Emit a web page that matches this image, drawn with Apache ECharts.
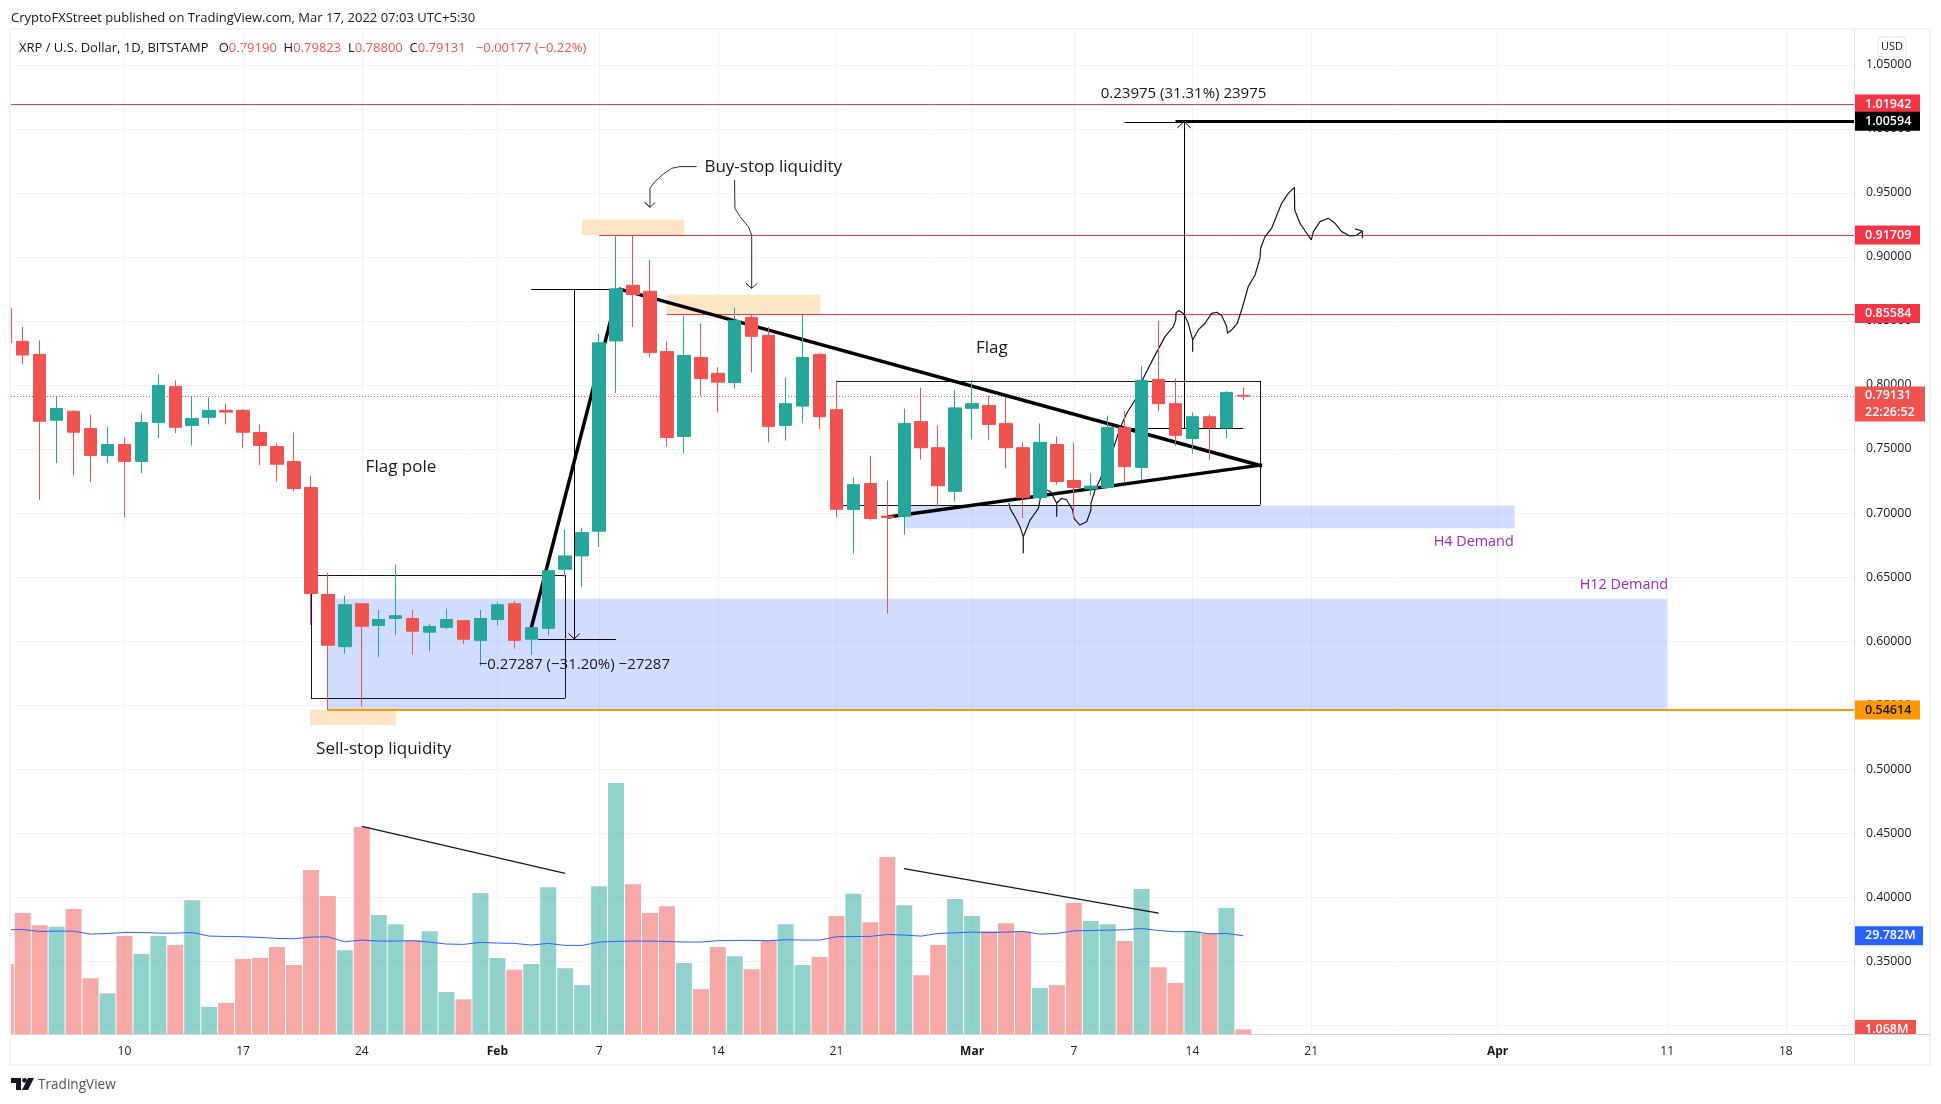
<!DOCTYPE html>
<html><head><meta charset="utf-8"><style>html,body{margin:0;padding:0;background:#fff}#c{width:1941px;height:1104px}</style>
<script src="https://cdn.jsdelivr.net/npm/echarts@6/dist/echarts.min.js"></script></head>
<body><div id="c"></div>
<script>
const FONT = '"Open Sans", sans-serif';
// ---------- data: x values are day-of-year 2022 (Jan 1 = 1)
const firstDay = 3;
const open  = [.8597,.8341,.8239,.7725,.7794,.7659,.7450,.7535,.7403,.7706,.7989,.7684,.7747,.7802,.7802,.7629,.7519,.7403,.7199,.6363,.5956,.6291,.6121,.6176,.6176,.6069,.6107,.6159,.6005,.6168,.6291,.6014,.6099,.6560,.6665,.6858,.8344,.8779,.8732,.8261,.7598,.8215,.8091,.8019,.8528,.8388,.7684,.7835,.8239,.7807,.7026,.7230,.6976,.6974,.7714,.7510,.7169,.7818,.7840,.7700,.7510,.7120,.7535,.7254,.7188,.7199,.7667,.7356,.8044,.7854,.7582,.7752,.7664,.7919];
const close = [.8330,.8234,.7717,.7816,.7631,.7450,.7535,.7403,.7706,.7997,.7670,.7739,.7802,.7788,.7631,.7527,.7381,.7191,.6371,.5967,.6283,.6115,.6168,.6198,.6077,.6113,.6168,.6014,.6176,.6283,.6005,.6104,.6549,.6665,.6847,.8330,.8751,.8707,.8253,.7590,.8231,.8050,.8022,.8503,.8380,.7675,.7854,.8215,.7752,.7029,.7221,.6957,.6965,.7700,.7510,.7213,.7821,.7854,.7692,.7510,.7120,.7552,.7246,.7199,.7210,.7667,.7362,.8036,.7854,.7607,.7752,.7667,.7942,.7913];
const low   = [.8330,.8160,.7100,.7389,.7293,.7241,.7389,.6966,.7312,.7585,.7623,.7527,.7692,.7692,.7510,.7373,.7246,.7169,.6126,.5461,.5901,.5489,.5874,.6049,.5893,.5920,.6091,.5975,.5805,.6121,.5940,.5893,.6044,.6503,.6423,.6735,.7937,.8454,.8215,.7519,.7464,.7915,.7785,.7972,.8096,.7552,.7565,.7706,.7656,.6966,.6683,.6941,.6214,.6831,.7417,.7051,.7092,.7574,.7568,.7348,.6960,.7092,.7221,.6960,.7136,.7191,.7238,.7257,.7794,.7524,.7464,.7417,.7582,.7880];
const high  = [.8597,.8454,.8347,.7912,.7802,.7769,.7675,.7590,.7777,.8083,.8036,.7912,.7901,.7854,.7813,.7692,.7544,.7629,.7293,.6533,.6354,.6291,.6242,.6596,.6242,.6137,.6253,.6159,.6242,.6305,.6313,.6104,.6549,.6872,.6886,.8399,.9161,.9169,.8979,.8341,.8542,.8481,.8138,.8605,.8550,.8454,.8058,.8550,.8248,.8028,.7276,.7447,.7254,.7816,.7981,.7684,.7959,.8041,.7917,.7904,.7552,.7700,.7598,.7552,.7309,.7761,.7800,.8146,.8503,.8050,.7785,.7769,.7950,.7982];
const volume = [21.3,36.7,33.0,32.5,37.9,17.0,12.4,29.7,24.3,29.7,27.0,40.5,8.3,9.5,22.8,23.1,26.4,21.0,49.7,41.8,25.4,62.7,36.1,33.3,28.5,31.2,12.8,10.6,42.7,23.1,19.5,21.3,44.5,20.0,14.9,44.8,76.0,45.4,36.7,38.7,21.6,13.7,26.4,23.6,19.7,28.4,33.3,21.0,23.4,35.8,42.5,33.9,53.6,39.0,17.9,27.0,40.9,35.8,31.2,33.6,31.2,14.0,14.9,39.7,34.3,33.3,28.2,43.9,20.3,15.5,31.2,30.5,38.2,1.5];
const volumeMA = [31.6,31.7,31.1,31.2,31.2,30.3,30.5,30.8,30.8,30.6,30.6,30.8,29.7,29.6,29.5,29.3,29.0,28.9,29.4,29.5,28.0,28.5,28.2,28.2,28.3,27.9,27.3,27.2,27.8,27.6,27.5,27.0,27.5,26.9,26.9,27.9,28.1,28.2,28.2,28.1,27.9,27.9,28.3,28.4,28.4,28.3,28.6,28.5,28.5,29.5,29.6,29.6,30.2,30.0,29.7,30.5,30.7,30.9,30.8,30.9,31.1,30.3,30.5,31.3,31.4,31.5,31.6,32.0,31.4,31.0,31.1,30.4,30.5,29.8];
const tickDays   = [10,17,24,32,38,45,52,60,66,73,80,91,101,108];
const tickLabels = ['10','17','24','Feb','7','14','21','Mar','7','14','21','Apr','11','18'];
const priceTicks = [.30,.35,.40,.45,.50,.55,.60,.65,.70,.75,.80,.85,.90,.95,1.00,1.05];

// ---------- drawings, as [day, price] pairs
const buyStopZones = [[37,.9293,43.03,.9172],[41.97,.8707,51.06,.8545],[20.95,.5461,26.02,.5343]];
const demandZones  = [[22,.6330,101,.5461],[56,.7059,92,.6880]];
const boxPole = [[21,.6516],[36,.6516],[36,.5555],[21,.5555],[21,.6516]];
const boxFlag = [[52,.8033],[77,.8033],[77,.7065],[52,.7065],[52,.8033]];
const trendPole  = [[34,.6104],[39.16,.8751]];
const trendUpper = [[39.16,.8751],[77.1,.7367]];
const trendLower = [[55.04,.6968],[77.1,.7376]];
const volumeTrendA = [[24,.4552],[36,.4184]];
const volumeTrendB = [[55.98,.4222],[71,.3874]];
const measureDownTop = [[34,.8751],[39,.8751]];
const measureDownStem = [[36.53,.8751],[36.53,.6016]];
const measureDownBase = [[34.4,.6016],[39,.6016]];
const measureDownHead = [[36.2,.6058],[36.53,.6016],[36.86,.6058]];
const measureUpBase = [[69.4,.7664],[76,.7664]];
const measureUpStem = [[72.5,.7664],[72.5,1.0058]];
const measureUpTop = [[69,1.0058],[72,1.0058]];
const measureUpHead = [[72.1,1.0008],[72.5,1.0058],[72.9,1.0008]];
const arrowOne = [[43.75,.9706],[42.77,.9706],[42.28,.9693],[41.79,.9648],[41.29,.9589],[41,.9536],[41,.9388],[40.69,.9427],[41,.9388],[41.31,.9427]];
const arrowTwo = [[45.99,.9602],[46.01,.9380],[46.31,.9315],[46.8,.9237],[47,.9172],[47,.8755],[46.66,.8794],[47,.8755],[47.33,.8794]];
const projection = [[62.17,.7078],[62.24,.7036],[62.63,.6945],[62.86,.6880],[63.02,.6815],[63.02,.6685],[63.02,.6815],[63.42,.6945],[63.91,.7036],[64.04,.7128],[64.40,.7180],[64.63,.7167],[64.99,.7076],[64.99,.6971],[64.99,.7076],[65.28,.7115],[65.58,.7102],[65.93,.7024],[66.01,.6958],[66.36,.6906],[66.76,.6932],[67.01,.7024],[67.01,.7076],[67.25,.7180],[67.54,.7258],[67.95,.7400],[68.37,.7518],[68.72,.7661],[69.12,.7779],[69.61,.7883],[70.10,.8052],[70.69,.8208],[71.38,.8378],[71.87,.8456],[72.01,.8508],[72.03,.8565],[72.20,.8581],[72.50,.8555],[72.75,.8482],[73.01,.8352],[73.01,.8260],[73.01,.8352],[73.34,.8430],[73.74,.8482],[74.13,.8560],[74.43,.8568],[74.72,.8542],[75.02,.8456],[75.06,.8404],[75.31,.8430],[75.64,.8482],[75.90,.8586],[76.29,.8768],[76.69,.8859],[76.98,.8990],[77.02,.9068],[77.28,.9159],[77.67,.9224],[78.02,.9341],[78.26,.9419],[78.65,.9497],[79.01,.9544],[79.03,.9367],[79.34,.9263],[79.74,.9185],[80.01,.9133],[80.13,.9198],[80.52,.9276],[81.01,.9302],[81.41,.9263],[81.80,.9198],[82.29,.9164],[82.68,.9169],[83.02,.9203],[82.59,.9219],[83.02,.9203],[83.02,.9146]];
const bigNotes = [[26.31,.7359,'Flag pole'],[48.27,.9705,'Buy-stop liquidity'],[61.16,.8284,'Flag'],[25.29,.5156,'Sell-stop liquidity']];
const measureNotes = [[72.47,1.0276,'0.23975 (31.31%) 23975'],[36.54,.5815,'−0.27287 (−31.20%) −27287']];
const zoneNotes = [[91.95,.6777,'H4 Demand'],[101.05,.6440,'H12 Demand']];
const priceTags = [[.91709,'0.91709'],[.85584,'0.85584'],[1.01942,'1.01942']];
const lastPrice = .79131, countdown = '22:26:52', stopLevel = 1.00594, lowLevel = .54614;
const lastVolume = 1.5, lastVolumeText = '1.068M', lastMA = 29.782, lastMAText = '29.782M';

// ---------- scales
const xMin = 3.31, xMax = 112.02, yMin = .2927, yMax = 1.0773, volMax = 303.5;
const GREEN = '#26a69a', RED = '#ef5350';
const days = open.map((_, i) => firstDay + i);
const candles = days.map((d, i) => [d, open[i], close[i], low[i], high[i]]);
const bars = days.map((d, i) => ({value: [d, volume[i]], itemStyle: {color: close[i] >= open[i] ? 'rgba(38,166,154,.5)' : 'rgba(239,83,80,.5)'}}));

const line = (data, color, width, z, extra) => Object.assign({type: 'line', data, symbol: 'none', silent: true, z: z || 5,
  lineStyle: {color, width: width || 1}, animation: false}, extra || {});
// axis-aligned rules, snapped to the pixel grid after the axis has placed them
const rule = (pts, color, width, dash, z) => ({type: 'custom', silent: true, animation: false, z: z || 5, clip: true,
  data: pts.slice(1).map((p, i) => [pts[i][0], pts[i][1], p[0], p[1]]),
  renderItem: (ctx, api) => {
    const a = api.coord([api.value(0), api.value(1)]), b = api.coord([api.value(2), api.value(3)]);
    const snap = v => width % 2 ? Math.round(v) + .5 : Math.round(v);
    const horizontal = Math.abs(a[1] - b[1]) < Math.abs(a[0] - b[0]);
    const y1 = horizontal ? snap(a[1]) : a[1], y2 = horizontal ? snap(a[1]) : b[1];
    const x1 = horizontal ? a[0] : snap(a[0]), x2 = horizontal ? b[0] : snap(a[0]);
    return {type: 'line', shape: {x1, y1, x2, y2}, style: {stroke: color, lineWidth: width, lineDash: dash || null, fill: null}};
  }});
const zones = (data, color) => ({type: 'custom', data, z: 1, silent: true, animation: false,
  renderItem: (p, api) => {
    const a = api.coord([api.value(0), api.value(1)]), b = api.coord([api.value(2), api.value(3)]);
    return {type: 'rect', shape: {x: a[0], y: a[1], width: b[0] - a[0], height: b[1] - a[1]}, style: {fill: color}};
  }});
const text = (data, color, position, size) => ({type: 'scatter', symbolSize: 0, silent: true, z: 9, animation: false, itemStyle: {opacity: 1},
  data: data.map(n => ({value: [n[0], n[1]], name: n[2]})),
  label: {show: true, opacity: 1, position: position, distance: 0, formatter: '{b}', color, fontFamily: FONT, fontSize: size}});
const tag = (value, label, bg, fg, axis, extra) => ({type: 'scatter', symbolSize: 0, silent: true, z: 20, animation: false, yAxisIndex: axis || 0, itemStyle: {opacity: 1},
  data: [{value: [xMax, value], name: label}],
  label: Object.assign({show: true, opacity: 1, position: 'right', distance: 0, formatter: '{b}', backgroundColor: bg, color: fg,
    fontFamily: FONT, fontSize: 12.5, fontWeight: 600, padding: [0, 0, 0, 11], width: 55, height: 19, lineHeight: 19}, extra || {})});

const series = [
  zones(buyStopZones, '#fde5c5'),
  zones(demandZones, 'rgba(41,98,255,.22)'),
  {type: 'bar', data: bars, yAxisIndex: 1, barWidth: 16, z: 2, silent: true, animation: false, clip: true},
  line(days.map((d, i) => [d, volumeMA[i]]), '#2962ff', 1, 3, {yAxisIndex: 1}),
  rule([[xMin, lastPrice], [xMax, lastPrice]], RED, 1, [1, 2], 3),
  rule([[xMin, priceTags[2][0]], [xMax, priceTags[2][0]]], '#f23645', 1),
  rule([[38, priceTags[0][0]], [xMax, priceTags[0][0]]], '#f23645', 1),
  rule([[42, priceTags[1][0]], [xMax, priceTags[1][0]]], '#f23645', 1),
  rule([[72, stopLevel], [xMax, stopLevel]], '#000', 3, null, 6),
  rule([[22, lowLevel], [xMax, lowLevel]], '#ff9800', 2),
  rule(boxPole, '#131722', 1, null, 6),
  rule(boxFlag, '#131722', 1, null, 6),
  line(trendPole, '#000', 3.5, 7),
  line(trendUpper, '#000', 3.5, 7),
  line(trendLower, '#000', 3.5, 7),
  line(volumeTrendA, '#131722', 1.3, 7),
  line(volumeTrendB, '#131722', 1.3, 7),
  rule(measureDownTop, '#000', 1, null, 7),
  rule(measureDownStem, '#000', 1, null, 7),
  rule(measureDownBase, '#000', 1, null, 7),
  line(measureDownHead, '#000', 1, 7),
  rule(measureUpBase, '#000', 1, null, 7),
  rule(measureUpStem, '#000', 1, null, 7),
  rule(measureUpTop, '#000', 1, null, 7),
  line(measureUpHead, '#000', 1, 7),
  line(arrowOne, '#2a2e39', 1, 7),
  line(arrowTwo, '#2a2e39', 1, 7),
  line(projection, '#131722', 1.2, 7),
  {type: 'candlestick', data: candles, barWidth: 13, z: 8, silent: true, animation: false, clip: true,
   itemStyle: {color: GREEN, color0: RED, borderColor: GREEN, borderColor0: RED, borderWidth: 1}},
  text(bigNotes, '#131722', 'inside', 17),
  text(measureNotes, '#131722', 'inside', 15),
  text(zoneNotes, '#9c27b0', 'left', 14.4),
  tag(priceTags[2][0], priceTags[2][1], '#f23645', '#fff'),
  tag(stopLevel, '1.00594', '#000', '#fff'),
  tag(priceTags[0][0], priceTags[0][1], '#f23645', '#fff'),
  tag(priceTags[1][0], priceTags[1][1], '#f23645', '#fff'),
  tag(lastPrice, lastPrice.toFixed(5) + '\n' + countdown, RED, '#fff', 0, {width: 60, height: 35, lineHeight: 17, offset: [0, 8]}),
  tag(lowLevel, '0.54614', '#ff9800', '#131722'),
  tag(lastMA, lastMAText, '#2962ff', '#fff', 1, {width: 58}),
  tag(lastVolume, lastVolumeText, RED, '#fff', 1, {width: 51})
];

const rect = (x, y, w, h, fill, z) => ({type: 'rect', silent: true, z: z || 0, shape: {x, y, width: w, height: h}, style: {fill}});
const chrome = [
  rect(0, 30, 10, 1034, '#fff', 100),
  rect(1854, 1035, 76, 29, '#fff', 100),
  {type: 'rect', silent: true, z: 101, shape: {x: 10, y: 29, width: 1920, height: 1036}, style: {fill: 'none', stroke: '#f0f3fa', lineWidth: 2}},
  {type: 'line', silent: true, z: 101, shape: {x1: 11, y1: 1034.5, x2: 1930, y2: 1034.5}, style: {stroke: '#d1d4dc', lineWidth: 1}},
  {type: 'line', silent: true, z: 101, shape: {x1: 1854.5, y1: 30, x2: 1854.5, y2: 1064}, style: {stroke: '#e0e3eb', lineWidth: 1}},
  {type: 'text', silent: true, x: 11, y: 18, style: {text: 'CryptoFXStreet published on TradingView.com, Mar 17, 2022 07:03 UTC+5:30', fill: '#131722', font: '13px ' + FONT, verticalAlign: 'middle'}},
  {type: 'text', silent: true, x: 19, y: 48, style: {
    text: '{k|XRP / U.S. Dollar, 1D, BITSTAMP}   {k|O}{v|0.79190}  {k|H}{v|0.79823}  {k|L}{v|0.78800}  {k|C}{v|0.79131}   {v|−0.00177 (−0.22%)}',
    verticalAlign: 'middle', font: '13px ' + FONT,
    rich: {k: {fill: '#131722', font: '13px ' + FONT}, v: {fill: RED, font: '13px ' + FONT}}}},
  {type: 'rect', silent: true, z: 5, shape: {x: 1878, y: 37, width: 28, height: 20, r: 4}, style: {fill: '#fff', stroke: '#e0e3eb', lineWidth: 1}},
  {type: 'text', silent: true, z: 6, x: 1892, y: 47, style: {text: 'USD', fill: '#131722', font: '11px ' + FONT, align: 'center', verticalAlign: 'middle'}},
  {type: 'polygon', silent: true, shape: {points: [[11, 1078], [21, 1078], [21, 1090], [16, 1090], [16, 1083], [11, 1083]]}, style: {fill: '#131722'}},
  {type: 'circle', silent: true, shape: {cx: 24.5, cy: 1080.3, r: 2.4}, style: {fill: '#131722'}},
  {type: 'polygon', silent: true, shape: {points: [[28, 1078], [34, 1078], [28, 1090], [22, 1090]]}, style: {fill: '#131722'}},
  {type: 'text', silent: true, x: 38, y: 1085, style: {text: 'TradingView', fill: '#50535e', font: '13.6px ' + FONT, verticalAlign: 'middle'}}
];

const chart = echarts.init(document.getElementById('c'), null, {renderer: 'canvas'});
chart.setOption({
  animation: false, backgroundColor: '#fff', textStyle: {fontFamily: FONT},
  grid: {left: 11, right: 87, top: 30, bottom: 69.6, containLabel: false},
  xAxis: {type: 'value', min: xMin, max: xMax,
    axisLine: {show: false},
    axisTick: {show: false, customValues: tickDays},
    axisLabel: {show: true, customValues: tickDays, margin: 11, fontSize: 12, color: '#131722', fontFamily: FONT,
      formatter: v => { const s = tickLabels[tickDays.indexOf(v)]; return /[A-Z]/.test(s) ? '{b|' + s + '}' : s; },
      rich: {b: {fontWeight: 700, fontSize: 12, color: '#131722', fontFamily: FONT}}},
    splitLine: {show: true, lineStyle: {color: '#f0f3fa', width: 1}}},
  yAxis: [
    {type: 'value', position: 'right', min: yMin, max: yMax,
     axisLine: {show: false},
     axisTick: {show: false, customValues: priceTicks},
     axisLabel: {show: true, customValues: priceTicks, margin: 12, fontSize: 12.3, color: '#131722', fontFamily: FONT, padding: [4, 0, 0, 0], formatter: v => v.toFixed(5)},
     splitLine: {show: true, lineStyle: {color: '#f0f3fa', width: 1}}},
    {type: 'value', min: 0, max: volMax, show: false, splitLine: {show: false}}
  ],
  graphic: chrome,
  series
});
</script></body></html>
